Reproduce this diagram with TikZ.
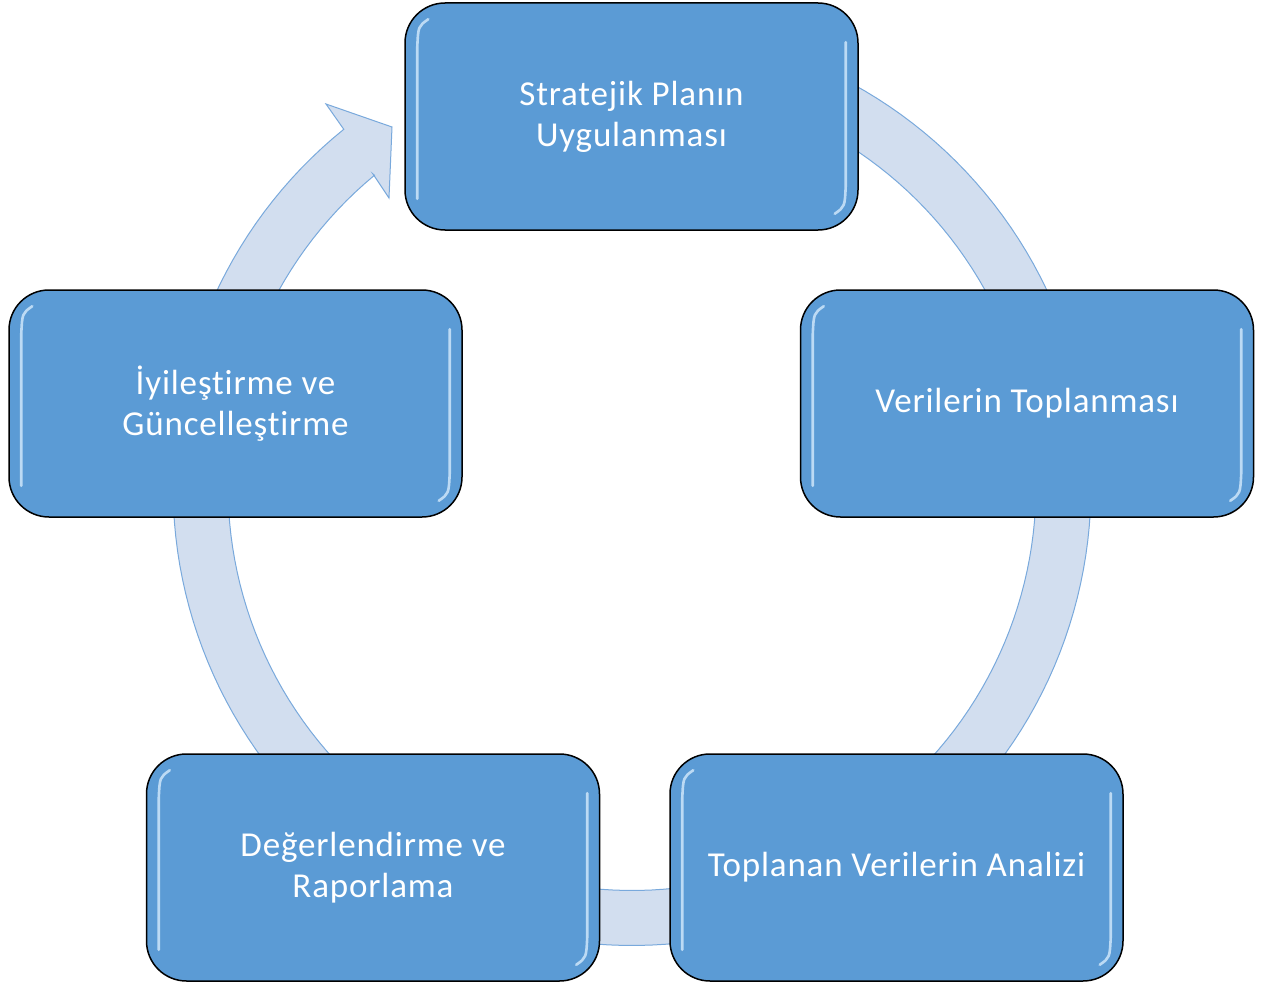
\documentclass[tikz,border=0pt]{standalone}
\usepackage{fontspec}
\setmainfont{Carlito}[LetterSpace=2.4, Ligatures={NoCommon}]
\usetikzlibrary{calc}
\definecolor{boxblue}{HTML}{5B9BD5}
\definecolor{ringfill}{HTML}{D2DEEF}
\definecolor{ringline}{HTML}{79A9DC}
\definecolor{hilite}{HTML}{DDF0FF}
\newcommand{\boxhilites}[1]{%
  \draw[hl] ($(#1.north west)+(24,17)$) .. controls ($(#1.north west)+(14,24)$) .. ($(#1.north west)+(13,45)$) -- ($(#1.south west)+(13,-32)$);
  \draw[hl] ($(#1.north east)+(-13,40)$) -- ($(#1.south east)+(-13,-45)$) .. controls ($(#1.south east)+(-14,-24)$) .. ($(#1.south east)+(-24,-17)$);
}
\begin{document}
\begin{tikzpicture}[x=1pt,y=-1pt,
  stepbox/.style={draw=black, line width=1.5pt, fill=boxblue, rounded corners=40pt,
    minimum width=453pt, minimum height=227pt, text=white, align=center,
    font=\fontsize{35}{41}\selectfont, inner sep=0pt},
  hl/.style={draw=hilite, line width=2.6pt, line cap=round, opacity=0.75},
  ringstyle/.style={fill=ringfill, draw=ringline, line width=1pt, line join=miter}]
\useasboundingbox (0,0) rectangle (1278,990);
\def\cx{632}\def\cy{486.5}
% continuous circular arrow behind the boxes
\filldraw[ringstyle]
  plot[domain=-90:231.1, samples=180] ({\cx+459*cos(\x)},{\cy+459*sin(\x)})
  -- (326,104) -- (392,127) -- (389,198) -- (373,174)
  -- plot[domain=230.4:-90, samples=180] ({\cx+404*cos(\x)},{\cy+404*sin(\x)}) -- cycle;
% boxes
\node[stepbox] (s1) at (631.5,116.5) {Stratejik Planın\\Uygulanması};
\node[stepbox] (s2) at (1027,403.5) {Verilerin Toplanması};
\node[stepbox] (s3) at (896.5,867.5) {Toplanan Verilerin Analizi};
\node[stepbox] (s4) at (373,867.5) {Değerlendirme ve\\Raporlama};
\node[stepbox] (s5) at (235.5,403.5) {İyileştirme ve\\Güncelleştirme};
\boxhilites{s1}
\boxhilites{s2}
\boxhilites{s3}
\boxhilites{s4}
\boxhilites{s5}
\end{tikzpicture}
\end{document}
